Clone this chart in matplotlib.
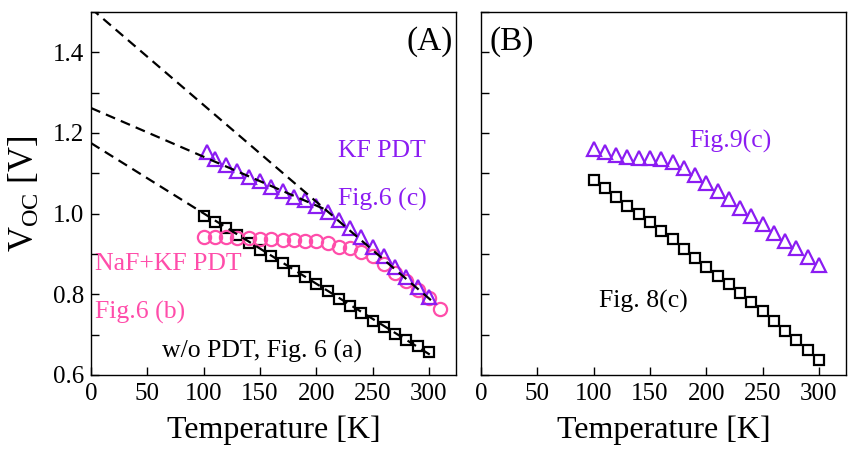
import numpy as np
import matplotlib
matplotlib.use("Agg")
import matplotlib.pyplot as plt
from matplotlib.ticker import MultipleLocator

plt.rcParams['font.family'] = ['Liberation Serif', 'DejaVu Serif']
plt.rcParams['mathtext.fontset'] = 'custom'
plt.rcParams['mathtext.rm'] = 'Liberation Serif'
plt.rcParams['mathtext.it'] = 'Liberation Serif:italic'

PURPLE = '#8B1CF2'
PINK = '#FF4DAA'

# ---- panel (A) data ----
T_a = [100, 110, 120, 130, 140, 150, 160, 170, 180, 190, 200,
       210, 220, 230, 240, 250, 260, 270, 280, 290, 300]
wo_pdt = [0.995, 0.980, 0.965, 0.947, 0.928, 0.910, 0.894, 0.877, 0.859, 0.842, 0.826,
          0.808, 0.789, 0.771, 0.753, 0.735, 0.718, 0.702, 0.687, 0.672, 0.656]
T_kf = [103, 110, 120, 130, 140, 150, 160, 170, 180, 190, 200,
        210, 220, 230, 240, 250, 260, 270, 280, 290, 300]
kf_pdt = [1.154, 1.135, 1.121, 1.105, 1.092, 1.080, 1.067, 1.057, 1.042, 1.034, 1.018,
          1.004, 0.985, 0.964, 0.941, 0.918, 0.894, 0.869, 0.844, 0.818, 0.794]
T_nakf = [100, 110, 120, 130, 140, 150, 160, 170, 180, 190, 200,
          210, 220, 230, 240, 250, 260, 270, 280, 290, 300, 310]
nakf_pdt = [0.942, 0.942, 0.942, 0.939, 0.939, 0.938, 0.937, 0.935, 0.935, 0.933, 0.931,
            0.927, 0.918, 0.914, 0.904, 0.894, 0.875, 0.852, 0.832, 0.811, 0.790, 0.763]

# dashed extrapolations (end points)
fit1_T = [0, 302]
fit1_V = [1.509, 0.785]
fit2_T = [0, 210]
fit2_V = [1.262, 1.008]
fit3_T = [0, 304]
fit3_V = [1.175, 0.645]

# ---- panel (B) data ----
T_b = [100, 110, 120, 130, 140, 150, 160, 170, 180, 190, 200,
       210, 220, 230, 240, 250, 260, 270, 280, 290, 300]
fig8c = [1.084, 1.063, 1.042, 1.020, 0.999, 0.979, 0.958, 0.937, 0.913, 0.891, 0.869,
         0.846, 0.825, 0.803, 0.780, 0.759, 0.734, 0.710, 0.687, 0.662, 0.637]
fig9c = [1.160, 1.152, 1.146, 1.140, 1.138, 1.138, 1.136, 1.127, 1.113, 1.096, 1.077,
         1.057, 1.036, 1.015, 0.995, 0.974, 0.953, 0.933, 0.914, 0.893, 0.873]

fig = plt.figure(figsize=(8.49, 4.51), dpi=100)
axA = fig.add_axes([91 / 849, 76 / 451, 365 / 849, 363 / 451])
axB = fig.add_axes([481 / 849, 76 / 451, 365 / 849, 363 / 451])

mk = dict(linestyle='none', markerfacecolor='none', markeredgewidth=1.6)
FS = 18.5

# panel A
axA.plot(T_a, wo_pdt, marker='s', markersize=7, color='black', **mk)
axA.plot(T_nakf, nakf_pdt, marker='o', markersize=9.5, color=PINK, **mk)
axA.plot(T_kf, kf_pdt, marker='^', markersize=9.5, color=PURPLE, **mk)
for ft, fv in [(fit1_T, fit1_V), (fit2_T, fit2_V), (fit3_T, fit3_V)]:
    axA.plot(ft, fv, color='black', lw=1.6, dashes=(4.5, 2.8), zorder=5)

axA.text(321, 1.427, '(A)', fontsize=24, ha='right', va='center')
axA.text(219, 1.140, 'KF PDT', fontsize=FS, color=PURPLE, va='baseline')
axA.text(219, 1.021, 'Fig.6 (c)', fontsize=FS, color=PURPLE, va='baseline')
axA.text(3.6, 0.860, 'NaF+KF PDT', fontsize=FS, color=PINK, va='baseline')
axA.text(3.6, 0.741, 'Fig.6 (b)', fontsize=FS, color=PINK, va='baseline')
axA.text(63, 0.642, 'w/o PDT, Fig. 6 (a)', fontsize=FS, color='black', va='baseline')

# panel B
axB.plot(T_b, fig8c, marker='s', markersize=7, color='black', **mk)
axB.plot(T_b, fig9c, marker='^', markersize=9.5, color=PURPLE, **mk)
axB.text(7.5, 1.427, '(B)', fontsize=24, ha='left', va='center')
axB.text(184.5, 1.163, 'Fig.9(c)', fontsize=FS, color=PURPLE, va='baseline')
axB.text(104.4, 0.766, 'Fig. 8(c)', fontsize=FS, color='black', va='baseline')

for ax in (axA, axB):
    ax.set_xlim(0, 324)
    ax.set_ylim(0.6, 1.5)
    ax.xaxis.set_major_locator(MultipleLocator(50))
    ax.yaxis.set_major_locator(MultipleLocator(0.2))
    ax.yaxis.set_minor_locator(MultipleLocator(0.1))
    ax.tick_params(which='both', direction='in', length=6, width=1.0,
                   top=False, right=False, labelsize=18)
    ax.tick_params(axis='x', pad=6)
    ax.tick_params(axis='y', pad=5)
    for s in ax.spines.values():
        s.set_linewidth(1.0)
    ax.set_xlabel('Temperature [K]', fontsize=23)
    ax.xaxis.set_label_coords(0.5, -0.112)

axA.set_ylabel('V$_{\\mathrm{OC}}$ [V]', fontsize=25)
axA.yaxis.set_label_coords(-0.135, 0.5)
axB.tick_params(axis='y', labelleft=False)

fig.savefig('out.png', dpi=100)
